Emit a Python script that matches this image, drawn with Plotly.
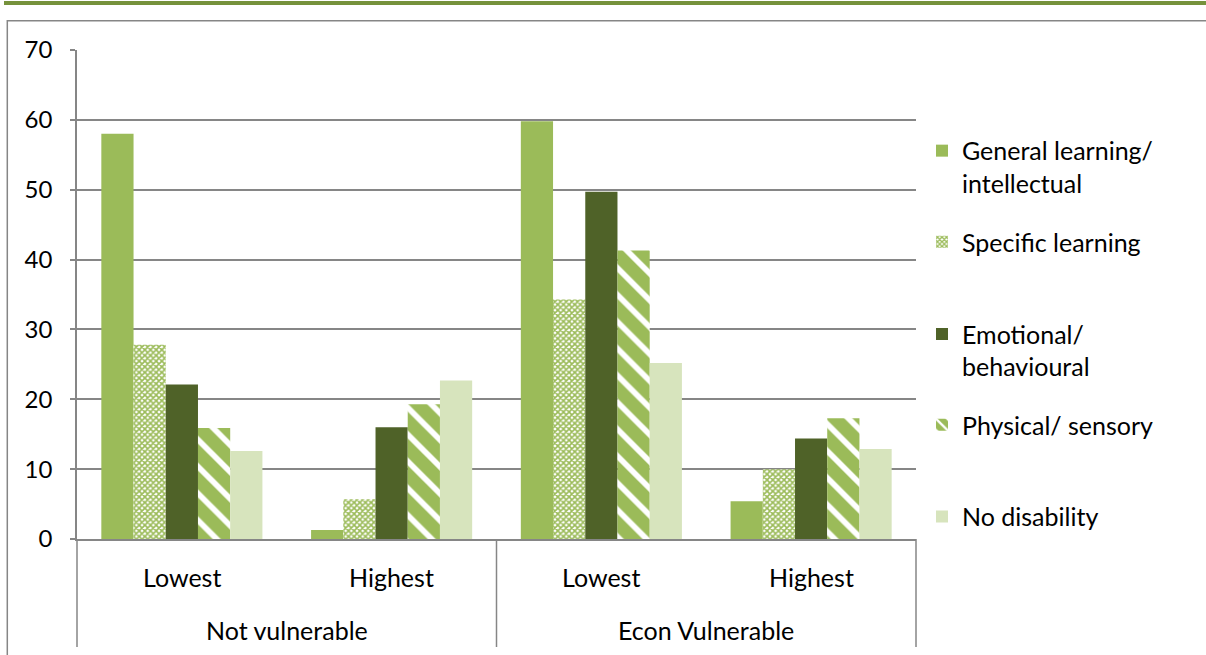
import plotly.graph_objects as go

outer = ["Not vulnerable", "Not vulnerable", "Econ Vulnerable", "Econ Vulnerable"]
inner = ["Lowest", "Highest", "Lowest", "Highest"]
outer_groups = ["Not vulnerable", "Econ Vulnerable"]

series_names = [
    "General learning/<br>intellectual",
    "Specific learning",
    "Emotional/<br>behavioural",
    "Physical/ sensory",
    "No disability",
]
general = [58.0, 1.3, 59.8, 5.4]
specific = [27.8, 5.7, 34.3, 10.0]
emotional = [22.1, 16.0, 49.7, 14.4]
physical = [15.9, 19.3, 41.3, 17.3]
nodis = [12.6, 22.7, 25.2, 12.9]
y_ticks = [0, 10, 20, 30, 40, 50, 60, 70]

GREEN = "#9BBB59"
DARK = "#4F6228"
LIGHT = "#D7E4BD"
GRID = "#868686"
FONT = "Lato, Carlito, Calibri, sans-serif"
FS = 25

# plot area in pixels
W, H = 1206, 655
L, R, T, B = 77, 916, 50, 539

def px_x(p):
    return (p - L) / (R - L)

def px_y(p):
    return (B - p) / (B - T)

values = [general, specific, emotional, physical, nodis]
markers = [
    dict(color=GREEN),
    dict(color="white", pattern=dict(shape="x", fgcolor=GREEN, bgcolor="white",
                                     size=4, solidity=0.65, fillmode="replace")),
    dict(color=DARK),
    dict(color=GREEN, pattern=dict(shape="\\", fgcolor="white", bgcolor=GREEN,
                                   size=19, solidity=0.3, fillmode="replace")),
    dict(color=LIGHT),
]
legend_ids = ["legend", "legend2", "legend3", "legend4", "legend5"]
marker_y = [151.7, 243, 335, 426, 517.7]
two_line = [True, False, True, False, False]

fig = go.Figure()
for name, vals, mk, lg in zip(series_names, values, markers, legend_ids):
    mk = dict(mk)
    mk["line"] = dict(width=0)
    fig.add_trace(go.Bar(x=[outer, inner], y=vals, name=name, marker=mk, legend=lg))

layout_legends = {}
for lg, my, tl in zip(legend_ids, marker_y, two_line):
    cy = my + (16.2 if tl else 0)
    layout_legends[lg] = dict(
        x=px_x(922), y=px_y(cy - 1), xanchor="left", yanchor="middle",
        font=dict(family=FONT, size=FS, color="black"),
        bgcolor="rgba(0,0,0,0)", borderwidth=0, valign="top",
        itemclick=False, itemdoubleclick=False,
    )

fig.update_layout(
    width=W, height=H,
    margin=dict(l=L, r=W - R, t=T, b=H - B, pad=0),
    paper_bgcolor="white", plot_bgcolor="white",
    barmode="group", bargap=0.232, bargroupgap=0,
    font=dict(family=FONT, size=FS, color="black"),
    showlegend=True,
    **layout_legends,
)

fig.update_yaxes(
    range=[0, 70], tickvals=y_ticks, ticktext=[str(v) for v in y_ticks],
    showgrid=True, gridcolor=GRID, gridwidth=1.5,
    showline=True, linecolor=GRID, linewidth=1.5,
    ticks="outside", ticklen=5, tickcolor=GRID, tickwidth=1.5,
    ticklabelstandoff=13, zeroline=False,
    tickfont=dict(family=FONT, size=FS - 1, color="black"),
)
fig.update_xaxes(
    type="multicategory",
    showline=True, linecolor=GRID, linewidth=1.5,
    showticklabels=False, showdividers=False,
    ticks="", showgrid=False,
)

# category labels (inner and outer rows) placed under the axis
n = len(inner)
for i, lab in enumerate(inner):
    fig.add_annotation(x=(i + 0.5) / n, y=px_y(577), xref="paper", yref="paper",
                       text=lab, showarrow=False, xanchor="center", yanchor="middle",
                       font=dict(family=FONT, size=FS, color="black"))
for j, lab in enumerate(outer_groups):
    fig.add_annotation(x=(j + 0.5) / len(outer_groups), y=px_y(630), xref="paper", yref="paper",
                       text=lab, showarrow=False, xanchor="center", yanchor="middle",
                       font=dict(family=FONT, size=FS, color="black"))
# group dividers
for k in range(len(outer_groups) + 1):
    xk = k / len(outer_groups)
    fig.add_shape(type="line", xref="paper", yref="paper", x0=xk, x1=xk,
                  y0=0, y1=px_y(647), line=dict(color=GRID, width=1.5), layer="above")

# decorative frame: top green band and grey chart-area border
fig.add_shape(type="rect", xref="paper", yref="paper",
              x0=px_x(4), x1=px_x(1206), y0=px_y(5), y1=px_y(1),
              fillcolor="#76923C", line=dict(width=0), layer="above")
fig.add_shape(type="path", xref="paper", yref="paper",
              path=f"M {px_x(7.3)} {px_y(660)} L {px_x(7.3)} {px_y(20.7)} L {px_x(1210)} {px_y(20.7)}",
              line=dict(color=GRID, width=1.5), layer="above")

fig.write_html(
    "out.html",
    config={"displayModeBar": False},
    post_script="document.body.style.margin='0';document.body.style.padding='0';document.body.style.overflow='hidden';",
)
